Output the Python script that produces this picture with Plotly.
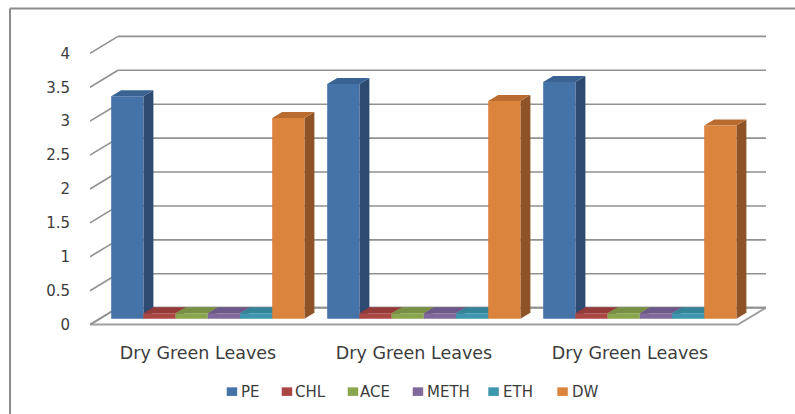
import plotly.graph_objects as go

# ---- data -------------------------------------------------------------
categories = ["Dry Green Leaves", "Dry Green Leaves", "Dry Green Leaves"]
series_names = ["PE", "CHL", "ACE", "METH", "ETH", "DW"]
PE = [3.28, 3.46, 3.49]
CHL = [0.08, 0.08, 0.08]
ACE = [0.08, 0.08, 0.08]
METH = [0.08, 0.08, 0.08]
ETH = [0.08, 0.08, 0.08]
DW = [2.96, 3.21, 2.85]
y_tick_values = [0, 0.5, 1, 1.5, 2, 2.5, 3, 3.5, 4]
y_tick_labels = ["0", "0.5", "1", "1.5", "2", "2.5", "3", "3.5", "4"]

values = [PE, CHL, ACE, METH, ETH, DW]

# face colours: front, top, side
front_colors = ["#4572A7", "#AA4643", "#89A54E", "#80699B", "#3D96AE", "#DB843D"]
top_colors = ["#3A6394", "#943B39", "#779043", "#6D5987", "#358398", "#BA6C30"]
side_colors = ["#2D4A70", "#722E2C", "#5B6E33", "#524369", "#286475", "#8E5326"]

# ---- pseudo-3D geometry (axis units) ----------------------------------
W, H = 795, 414
ML, MR, MT = 90, 29, 32.6
PX_PER_X = 216.0            # pixels per category
PX_PER_Y = 68.0             # pixels per value unit
DEPTH_X = 28 / PX_PER_X     # full depth of the floor, x component
DEPTH_Y = 17 / PX_PER_Y     # full depth of the floor, y component
BAR_F0 = 0.35               # depth fraction where bar fronts sit
BAR_DX = 10 / PX_PER_X      # bar thickness, x component
BAR_DY = 6 / PX_PER_Y       # bar thickness, y component
BAR_W = 32.2 / PX_PER_X     # bar width
n_cat = len(categories)
x_min, x_max = -0.5, n_cat - 0.5 + DEPTH_X
y_min, y_max = -0.05, 4.3
MB = H - MT - (y_max - y_min) * PX_PER_Y

grid_color = "#919191"
text_color = "#3c3c3c"
shapes = []
annotations = []

# floor
fx0, fx1 = -0.5, n_cat - 0.5
shapes.append(dict(
    type="path", xref="x", yref="y", layer="below",
    path=(f"M{fx0},0 L{fx1},0 L{fx1 + DEPTH_X},{DEPTH_Y} "
          f"L{fx0 + DEPTH_X},{DEPTH_Y} Z"),
    fillcolor="white", line=dict(color="#a0a0a0", width=2)))

# back-wall gridlines with the slanted ticks on the side wall
for v in y_tick_values:
    shapes.append(dict(type="line", xref="x", yref="y", layer="below",
                       x0=fx0, y0=v, x1=fx0 + DEPTH_X, y1=v + DEPTH_Y,
                       line=dict(color=grid_color, width=1.6)))
    shapes.append(dict(type="line", xref="x", yref="y", layer="below",
                       x0=fx0 + DEPTH_X, y0=v + DEPTH_Y, x1=x_max, y1=v + DEPTH_Y,
                       line=dict(color=grid_color, width=1.6)))

# bar positions
n_ser = len(series_names)
base = BAR_F0 * DEPTH_Y
shift = BAR_F0 * DEPTH_X
bar_x = [[c + (i - (n_ser - 1) / 2) * BAR_W + shift for c in range(n_cat)]
         for i in range(n_ser)]

# side and top faces, left to right so later bars overlap earlier sides
for c in range(n_cat):
    for i in range(n_ser):
        v = values[i][c]
        xl = bar_x[i][c] - BAR_W / 2
        xr = bar_x[i][c] + BAR_W / 2
        top = base + v
        shapes.append(dict(
            type="path", xref="x", yref="y", layer="below",
            path=(f"M{xr},{base} L{xr},{top} L{xr + BAR_DX},{top + BAR_DY} "
                  f"L{xr + BAR_DX},{base + BAR_DY} Z"),
            fillcolor=side_colors[i], line=dict(width=0)))
        shapes.append(dict(
            type="path", xref="x", yref="y", layer="below",
            path=(f"M{xl},{top} L{xr},{top} L{xr + BAR_DX},{top + BAR_DY} "
                  f"L{xl + BAR_DX},{top + BAR_DY} Z"),
            fillcolor=top_colors[i], line=dict(width=0)))


def px_to_paper_x(px):
    return (px - ML) / (W - ML - MR)


def px_to_paper_y(py):
    return (H - MB - py) / (H - MT - MB)


# chart frame (left and top edges)
shapes.append(dict(type="line", xref="paper", yref="paper",
                   x0=px_to_paper_x(10), y0=px_to_paper_y(8),
                   x1=px_to_paper_x(10), y1=px_to_paper_y(420),
                   line=dict(color="#8c8c8c", width=2)))
shapes.append(dict(type="line", xref="paper", yref="paper",
                   x0=px_to_paper_x(10), y0=px_to_paper_y(8),
                   x1=px_to_paper_x(800), y1=px_to_paper_y(8),
                   line=dict(color="#8c8c8c", width=2)))

# legend row below the chart: key square + series name
legend_key_left = [226.7, 281.7, 347.7, 412.7, 488.3, 557.3]
legend_text_center = [250.4, 310.9, 374.7, 448.7, 518.4, 585.0]
legend_row_y = 392.2
for i, name in enumerate(series_names):
    shapes.append(dict(type="rect", xref="paper", yref="paper",
                       x0=px_to_paper_x(legend_key_left[i]),
                       x1=px_to_paper_x(legend_key_left[i] + 10.5),
                       y0=px_to_paper_y(legend_row_y - 4.3),
                       y1=px_to_paper_y(legend_row_y + 4.3),
                       fillcolor=front_colors[i], line=dict(width=0)))
    annotations.append(dict(xref="paper", yref="paper",
                            x=px_to_paper_x(legend_text_center[i]),
                            y=px_to_paper_y(legend_row_y),
                            xanchor="center", yanchor="middle",
                            text=name, showarrow=False,
                            font=dict(family="DejaVu Sans", size=15,
                                      color=text_color)))

fig = go.Figure()
for i, name in enumerate(series_names):
    fig.add_trace(go.Bar(
        name=name, x=bar_x[i], y=values[i], base=base, width=BAR_W,
        marker=dict(color=front_colors[i], line=dict(width=0)),
        hoverinfo="name+y", showlegend=False))

fig.update_layout(
    width=W, height=H,
    margin=dict(l=ML, r=MR, t=MT, b=MB, autoexpand=False),
    paper_bgcolor="white", plot_bgcolor="white",
    barmode="overlay",
    shapes=shapes,
    annotations=annotations,
    showlegend=False,
    xaxis=dict(range=[x_min, x_max], tickvals=list(range(n_cat)),
               ticktext=categories, showgrid=False, zeroline=False,
               showline=False, ticks="", ticklabelstandoff=12,
               tickfont=dict(family="DejaVu Sans", size=17.5, color=text_color)),
    yaxis=dict(range=[y_min, y_max], tickvals=y_tick_values,
               ticktext=y_tick_labels, showgrid=False, zeroline=False,
               showline=False, ticks="", ticklabelstandoff=19,
               tickfont=dict(family="DejaVu Sans", size=15, color=text_color)),
)

fig.write_html("out.html")
